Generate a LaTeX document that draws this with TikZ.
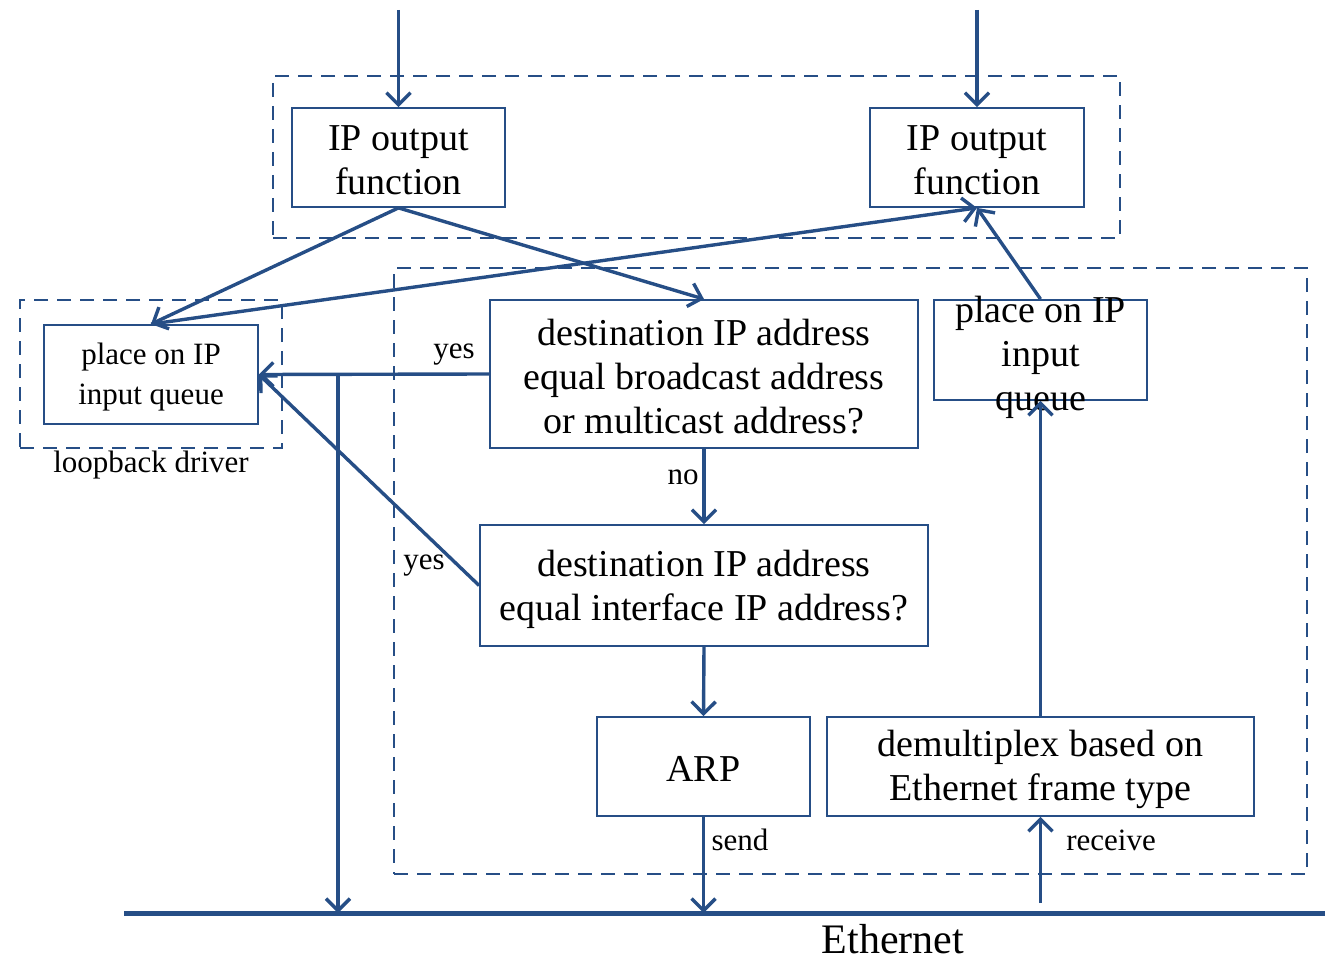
\documentclass[tikz,border=0pt]{standalone}
\usepackage{fontspec}
\setmainfont{Liberation Serif}
\usetikzlibrary{arrows.meta}
\definecolor{ln}{RGB}{38,78,134}
\begin{document}
\begin{tikzpicture}[x=1pt,y=-1pt,
  box/.style={draw=ln,line width=1.8pt,rectangle,inner sep=0pt},
  grp/.style={draw=ln,line width=1.6pt,dash pattern=on 14pt off 9pt,rectangle,inner sep=0pt},
  arr/.style={draw=ln,line width=3.4pt,-{Straight Barb[length=12pt,width=24pt]}},
  lab/.style={inner sep=0pt,font=\fontsize{31}{38}\selectfont},
  big/.style={inner sep=0pt,align=center,font=\fontsize{38}{44}\selectfont}]
\useasboundingbox (0,0) rectangle (1325,960);
% groups
\node[grp,minimum width=847pt,minimum height=162pt] (gtop) at (696.5,157) {};
\node[grp,minimum width=262pt,minimum height=148pt] (gloop) at (151,374) {};
\node[grp,minimum width=913pt,minimum height=606pt] (gmain) at (850.5,571) {};
% boxes
\node[box,minimum width=213pt,minimum height=99pt] (ipL) at (398.5,157.5) {};
\node[big] (ipLt) at ([yshift=-3pt]ipL.center) {IP output\\function};
\node[box,minimum width=214pt,minimum height=99pt] (ipR) at (977,157.5) {};
\node[big] (ipRt) at ([yshift=-3pt]ipR.center) {IP output\\function};
\node[box,minimum width=214pt,minimum height=99pt] (lb) at (151,374.5) {};
\node[big,font=\fontsize{31}{40}\selectfont] (lbt) at ([yshift=-3pt]lb.center) {place on IP\\input queue};
\node[box,minimum width=428pt,minimum height=148pt] (d1) at (704,374) {};
\node[big] (d1t) at ([yshift=-3pt]d1.center) {destination IP address\\equal broadcast address\\or multicast address?};
\node[box,minimum width=213pt,minimum height=100pt] (pr) at (1040.5,350) {};
\node[big] (prt) at (1040.5,357) {place on IP\\input\\queue};
\node[box,minimum width=448pt,minimum height=121pt] (d2) at (704,585.5) {};
\node[big] (d2t) at ([yshift=-4pt]d2.center) {destination IP address\\equal interface IP address?};
\node[box,minimum width=213pt,minimum height=99pt] (arp) at (703.5,766.5) {};
\node[big] (arpt) at ([yshift=-2pt]arp.center) {ARP};
\node[box,minimum width=427pt,minimum height=99pt] (dm) at (1040.5,766.5) {};
\node[big] (dmt) at ([yshift=-3pt]dm.center) {demultiplex based on\\Ethernet frame type};
% ethernet
\coordinate (ethL) at (124,913);
\coordinate (ethR) at (1325,913);
\draw[draw=ln,line width=5pt] (ethL) -- (ethR);
\node[inner sep=0pt,font=\fontsize{42}{48}\selectfont] (ethT) at (893,939) {Ethernet};
\node[lab] (lbT) at (151,465) {loopback driver};
% inputs
\coordinate (in1) at (398.5,10);
\coordinate (in2) at (977,10);
\draw[arr] (in1) -- (ipL.north);
\draw[arr] (in2) -- (ipR.north);
% connectors
\draw[arr] (ipL.south) -- (lb.north);
\draw[arr] (ipL.south) -- (d1.north);
\draw[arr] (lb.north) -- (ipR.south);
\draw[arr] (pr.north) -- (ipR.south);
\coordinate (br) at (338,374);
\draw[arr] (d1.west) -- (lb.east);
\draw[arr] (br) -- (br |- ethL);
\node[lab] (yes1) at (454,355) {yes};
\draw[arr] (d1.south) -- (d2.north);
\node[lab] (no) at (683,477) {no};
\draw[arr] (d2.west) -- (lb.east);
\node[lab] (yes2) at (424,566) {yes};
\draw[arr] (d2.south) -- (arp.north);
\draw[arr] (arp.south) -- (arp.south |- ethL);
\node[lab] (send) at (740,840) {send};
\coordinate (rc) at (1040.5,903);
\draw[arr] (rc) -- (dm.south);
\node[lab] (recv) at (1111,840) {receive};
\draw[arr] (dm.north) -- (pr.south);
\end{tikzpicture}
\end{document}
